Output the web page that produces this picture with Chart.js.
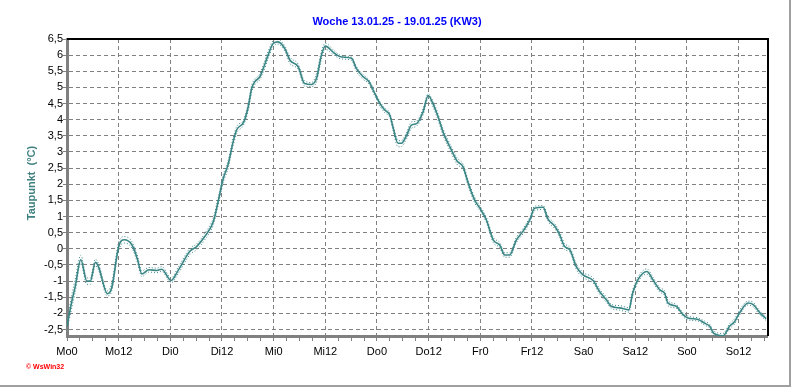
<!DOCTYPE html>
<html><head><meta charset="utf-8">
<style>html,body{margin:0;padding:0;background:#fff;overflow:hidden}#c{display:block}</style>
<script src="https://cdn.jsdelivr.net/npm/chart.js@4.4.1/dist/chart.umd.min.js"></script>
</head><body>
<canvas id="c" width="792" height="387"></canvas>
<script>
// ---- data (hours since Monday 00:00, dew point in °C) ----
const hours = [0,1,1.9,3.2,4.6,5.4,6.6,7.3,9.4,10.4,
 12,13.3,15.1,16.3,17.4,19,20.9,22,24.2,25.9,
 28.6,30.1,32,34,35.1,36.3,37.4,38.6,39.4,41.1,
 42.1,42.9,43.6,44.8,45.6,46.7,47.9,49,50.6,51.8,
 53.7,55.2,56.8,58,59.1,60,62.2,63.8,66.1,67.2,
 68.8,70.2,71.1,72.7,73.8,75,75.7,76.9,77.7,78.9,
 80,81.2,82.7,83.9,85,86.2,87.4,89,90.6,92,
 93.2,94.7,95.9,97.4,99,100.5,101.7,102.8,104.4,105.9,
 107.5,108.6,110.6,111.7,113.3,114.4,115.6,116.8,118.3,119.8,
 122.2,123.7,125.3,126.4,128.4,130.5,131.4,132.6,134.7,136.1,
 137.7,138.8,139.6,141.5,143.1,144.2,146.6,148.1,149.3,150.2,
 152.4,153.9,155.1,156.2,158.2,159.4,161,162.4];
const dewPoint = [-2.4,-1.7,-1.17,-0.34,-1.0,-1.0,-0.42,-0.55,-1.39,-1.2,
 0.07,0.28,0.12,-0.29,-0.78,-0.65,-0.67,-0.63,-0.98,-0.65,
 -0.07,0.07,0.38,0.85,1.46,2.18,2.6,3.32,3.68,3.94,
 4.4,4.97,5.17,5.33,5.59,6.0,6.36,6.41,6.2,5.84,
 5.64,5.12,5.09,5.3,6.0,6.28,6.05,5.94,5.9,5.59,
 5.33,5.17,4.92,4.5,4.3,4.14,3.78,3.27,3.27,3.52,
 3.83,3.88,4.24,4.75,4.5,4.09,3.6,3.14,2.72,2.54,
 2.03,1.51,1.26,0.9,0.28,0.12,-0.19,-0.19,0.28,0.54,
 0.9,1.26,1.29,0.93,0.7,0.45,0.07,-0.03,-0.55,-0.8,
 -0.98,-1.32,-1.58,-1.78,-1.83,-1.89,-1.37,-0.96,-0.7,-0.96,
 -1.27,-1.37,-1.68,-1.78,-2.04,-2.14,-2.19,-2.3,-2.4,-2.61,
 -2.69,-2.4,-2.25,-1.99,-1.68,-1.73,-1.99,-2.16];
const dewMax = [-2.3,-1.5,-0.95,-0.2,-0.9,-0.9,-0.32,-0.45,-1.3,-1.05,
 0.2,0.38,0.22,-0.18,-0.68,-0.58,-0.6,-0.55,-0.9,-0.55,
 0.02,0.15,0.48,0.97,1.58,2.3,2.72,3.44,3.78,4.02,
 4.52,5.07,5.25,5.42,5.7,6.12,6.45,6.5,6.28,5.94,
 5.72,5.2,5.15,5.45,6.12,6.37,6.12,5.98,5.94,5.65,
 5.4,5.22,4.98,4.56,4.36,4.2,3.86,3.36,3.35,3.62,
 3.93,3.96,4.34,4.8,4.58,4.18,3.7,3.24,2.82,2.62,
 2.12,1.6,1.34,0.98,0.36,0.2,-0.12,-0.12,0.36,0.62,
 0.98,1.32,1.34,1.02,0.78,0.54,0.16,0.05,-0.46,-0.72,
 -0.9,-1.24,-1.5,-1.72,-1.76,-1.82,-1.28,-0.88,-0.62,-0.88,
 -1.2,-1.3,-1.6,-1.72,-1.98,-2.08,-2.14,-2.24,-2.34,-2.54,
 -2.62,-2.32,-2.16,-1.9,-1.62,-1.66,-1.94,-2.1];
const dewMin = [-2.5,-1.9,-1.35,-0.45,-1.1,-1.1,-0.52,-0.65,-1.46,-1.3,
 -0.05,0.18,0.02,-0.4,-0.86,-0.72,-0.74,-0.7,-1.05,-0.75,
 -0.17,-0.03,0.28,0.75,1.34,2.06,2.48,3.2,3.56,3.86,
 4.28,4.85,5.08,5.24,5.47,5.88,6.26,6.34,6.12,5.74,
 5.56,5.04,5.03,5.18,5.88,6.18,5.98,5.88,5.84,5.5,
 5.25,5.1,4.84,4.42,4.22,4.06,3.68,3.16,3.17,3.42,
 3.73,3.8,4.14,4.66,4.4,3.98,3.5,3.04,2.62,2.46,
 1.94,1.42,1.18,0.82,0.2,0.04,-0.26,-0.26,0.2,0.46,
 0.82,1.18,1.22,0.86,0.62,0.36,-0.02,-0.1,-0.64,-0.88,
 -1.06,-1.4,-1.66,-1.84,-1.9,-1.96,-1.46,-1.04,-0.78,-1.04,
 -1.34,-1.44,-1.76,-1.84,-2.1,-2.2,-2.24,-2.36,-2.46,-2.68,
 -2.74,-2.48,-2.32,-2.06,-1.74,-1.8,-2.06,-2.22];

// ---- axis ticks / labels ----
const majorHours  = [0,12,24,36,48,60,72,84,96,108,120,132,144,156];
const majorLabels = ['Mo0','Mo12','Di0','Di12','Mi0','Mi12','Do0','Do12','Fr0','Fr12','Sa0','Sa12','So0','So12'];
const yTickValues = [-2.5,-2,-1.5,-1,-0.5,0,0.5,1,1.5,2,2.5,3,3.5,4,4.5,5,5.5,6,6.5];
const titleText = 'Woche 13.01.25 - 19.01.25 (KW3)';
const yTitleText = 'Taupunkt  (°C)';
const logoText = '\u00A9 WsWin32';

const xTickValues = [];
for (let h = 0; h <= 162; h += 3) xTickValues.push(h);

const pts = arr => hours.map((h, i) => ({x: h, y: arr[i]}));
const TEAL = '#3a8585';
const GRID = '#808080';
const FONT = '"Liberation Sans", Arial, sans-serif';

const decor = {
  id: 'decor',
  afterDraw(chart) {
    const {ctx, chartArea: a} = chart;
    ctx.save();
    // top & right plot border
    ctx.strokeStyle = '#000'; ctx.lineWidth = 2;
    ctx.beginPath();
    ctx.moveTo(a.left, a.top); ctx.lineTo(a.right + 1, a.top); ctx.lineTo(a.right + 1, a.bottom);
    ctx.stroke();
    // outer frame (right & bottom)
    ctx.strokeStyle = '#a0a0a0'; ctx.lineWidth = 2;
    ctx.beginPath();
    ctx.moveTo(790, 0); ctx.lineTo(790, 386); ctx.lineTo(0, 386);
    ctx.stroke();
    // title
    ctx.fillStyle = '#0000ff';
    ctx.font = 'bold 11px ' + FONT;
    ctx.textAlign = 'center'; ctx.textBaseline = 'middle';
    ctx.fillText(titleText, 397, 22);
    // y title
    ctx.save();
    ctx.translate(32, 183); ctx.rotate(-Math.PI / 2);
    ctx.fillStyle = '#408080';
    ctx.fillText(yTitleText, 0, 0);
    ctx.restore();
    // logo
    ctx.fillStyle = '#ff0000';
    ctx.font = 'bold 7px ' + FONT;
    ctx.textAlign = 'left';
    ctx.fillText(logoText, 26, 367);
    ctx.restore();
  }
};

new Chart(document.getElementById('c'), {
  type: 'line',
  data: {
    datasets: [
      {data: pts(dewMax), borderColor: TEAL, borderWidth: 1, borderDash: [1, 2], pointRadius: 0, cubicInterpolationMode: 'monotone'},
      {data: pts(dewMin), borderColor: TEAL, borderWidth: 1, borderDash: [1, 2], pointRadius: 0, cubicInterpolationMode: 'monotone'},
      {data: pts(dewPoint), borderColor: TEAL, borderWidth: 1.6, pointRadius: 0, cubicInterpolationMode: 'monotone'}
    ]
  },
  options: {
    responsive: false, animation: false, devicePixelRatio: 1,
    layout: {padding: {left: 0, right: 25, top: 39, bottom: 0}},
    plugins: {legend: {display: false}, tooltip: {enabled: false}, title: {display: false}},
    scales: {
      x: {
        type: 'linear', min: 0, max: 162.6,
        afterBuildTicks: s => { s.ticks = xTickValues.map(v => ({value: v})); },
        afterFit: s => { s.height = 51; },
        ticks: {
          autoSkip: false, maxRotation: 0, minRotation: 0, padding: 4, color: '#000',
          font: {family: FONT, size: 11},
          callback: v => { const i = majorHours.indexOf(v); return i >= 0 ? majorLabels[i] : ''; }
        },
        grid: {
          color: c => (c.tick && c.tick.value % 12 === 0 && c.tick.value > 0) ? GRID : 'rgba(0,0,0,0)',
          tickColor: GRID, tickLength: 5, lineWidth: 1
        },
        border: {display: true, color: GRID, width: 3, dash: [4, 3]}
      },
      y: {
        min: -2.7, max: 6.5,
        afterBuildTicks: s => { s.ticks = yTickValues.map(v => ({value: v})); },
        afterFit: s => { s.width = 67; },
        ticks: {
          padding: 0, color: '#000', font: {family: FONT, size: 11},
          callback: v => String(v).replace('.', ',')
        },
        grid: {
          color: c => (c.tick && c.tick.value === 6.5) ? 'rgba(0,0,0,0)' : GRID,
          tickColor: GRID, tickLength: 4, lineWidth: 1
        },
        border: {display: true, color: GRID, width: 3, dash: [4, 3]}
      }
    }
  },
  plugins: [decor]
});
</script>
</body></html>
